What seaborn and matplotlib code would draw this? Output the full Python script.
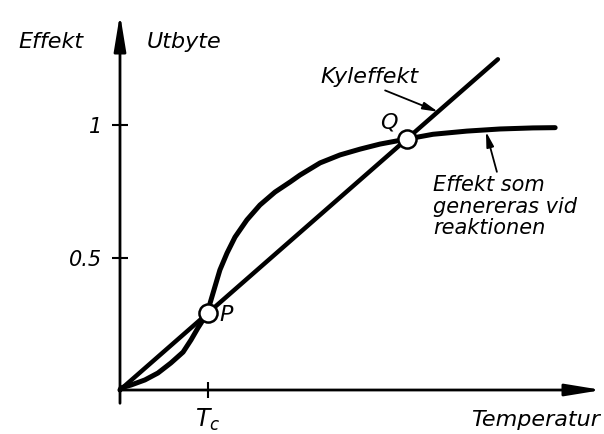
import matplotlib
matplotlib.use('Agg')
import matplotlib.pyplot as plt
import seaborn as sns

# generated power (S-shaped curve)
gen_x = [0, 0.004, 0.042, 0.094, 0.143, 0.192, 0.238, 0.268, 0.294, 0.313,
         0.332, 0.340, 0.358, 0.377, 0.404, 0.434, 0.479, 0.528, 0.585,
         0.642, 0.679, 0.755, 0.830, 0.906, 0.981, 1.045, 1.083, 1.181,
         1.309, 1.434, 1.558, 1.642]
gen_y = [0, 0.008, 0.019, 0.038, 0.064, 0.102, 0.143, 0.189, 0.234, 0.264,
         0.291, 0.328, 0.389, 0.453, 0.517, 0.577, 0.642, 0.698, 0.747,
         0.785, 0.811, 0.857, 0.887, 0.909, 0.928, 0.940, 0.947, 0.965,
         0.977, 0.985, 0.989, 0.990]

# cooling power (straight line through origin)
cool_x = [0, 1.426]
cool_y = [0, 1.248]

# intersection points
pt_x = [0.332, 1.083]
pt_y = [0.291, 0.947]
pt_names = ['P', 'Q']

y_ticks = [0.5, 1]
y_labels = ['0.5', '1']
tc = 0.332

sns.set_theme(style='white')
plt.rcParams['font.family'] = ['DejaVu Sans']
plt.rcParams['font.style'] = 'italic'
plt.rcParams['mathtext.fontset'] = 'dejavusans'
plt.rcParams['text.color'] = 'black'
plt.rcParams['xtick.color'] = 'black'
plt.rcParams['ytick.color'] = 'black'

fig = plt.figure(figsize=(6.04, 4.34), dpi=100)
ax = fig.add_axes([0, 0, 1, 1])
ax.set_xlim(-0.4528, 1.8264)
ax.set_ylim(-0.166, 1.4717)

# axes drawn as arrows
arr = dict(arrowstyle='-|>,head_length=2.2,head_width=0.36', lw=2, color='black',
           shrinkA=0, shrinkB=0, mutation_scale=10)
ax.annotate('', xy=(0, 1.419), xytext=(0, -0.05), arrowprops=arr)
ax.annotate('', xy=(1.819, 0), xytext=(0, 0), arrowprops=arr)

for s in ax.spines.values():
    s.set_visible(False)
ax.spines['left'].set_position(('data', 0))
ax.spines['bottom'].set_position(('data', 0))
ax.set_yticks(y_ticks, labels=y_labels)
ax.set_xticks([tc], labels=[r'$T_c$'])
ax.tick_params(axis='y', direction='inout', length=11.5, width=1.5, pad=7,
               labelsize=15, left=True)
ax.tick_params(axis='x', direction='inout', length=11.5, width=1.5, pad=6,
               labelsize=17, bottom=True)
ax.grid(False)

sns.lineplot(x=cool_x, y=cool_y, ax=ax, color='black', lw=3.2,
             solid_capstyle='round', zorder=3)
sns.lineplot(x=gen_x, y=gen_y, ax=ax, color='black', lw=3.6, sort=False,
             estimator=None, solid_capstyle='round', solid_joinstyle='round',
             zorder=3)
sns.scatterplot(x=pt_x, y=pt_y, ax=ax, s=170, color='white', edgecolor='black',
                linewidth=1.8, zorder=5)

ax.text(pt_x[0] + 0.042, pt_y[0] - 0.008, pt_names[0], fontsize=16, va='center')
ax.text(pt_x[1] - 0.068, pt_y[1] + 0.061, pt_names[1], fontsize=16, va='center', ha='center')

ax.text(-0.26, 1.2906, 'Effekt', fontsize=16, ha='center', va='baseline')
ax.text(0.102, 1.2906, 'Utbyte', fontsize=16, ha='left', va='baseline')
ax.text(1.811, -0.136, 'Temperatur', fontsize=16, ha='right', va='baseline')

ax.annotate('Kyleffekt', xy=(1.2, 1.05), xytext=(0.755, 1.158), fontsize=16,
            va='baseline',
            arrowprops=dict(arrowstyle='-|>,head_length=0.9,head_width=0.22',
                            lw=1.3, color='black', shrinkA=0, shrinkB=0,
                            mutation_scale=10, relpos=(0.58, 0)))
ax.annotate('Effekt som\ngenereras vid\nreaktionen', xy=(1.381, 0.975),
            xytext=(1.181, 0.811), fontsize=15, va='top', linespacing=1.1,
            arrowprops=dict(arrowstyle='-|>,head_length=0.9,head_width=0.22',
                            lw=1.3, color='black', shrinkA=0, shrinkB=0,
                            mutation_scale=10, relpos=(0.45, 1)))

fig.savefig('out.png', dpi=100)
